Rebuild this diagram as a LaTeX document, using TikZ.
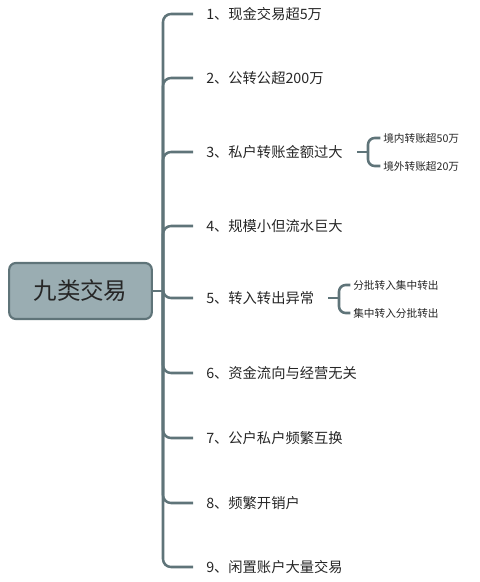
\documentclass[tikz,border=0pt]{standalone}
\usepackage{fontspec}
\newfontfamily\cjk{Noto Sans CJK SC}
\definecolor{linegray}{HTML}{5F7479}
\definecolor{rootfill}{HTML}{9AADB2}
\tikzset{
  topic/.style={anchor=west, inner sep=0pt, text=black!85, font=\cjk\fontsize{10.7}{12}\selectfont},
  subtopic/.style={anchor=west, inner sep=0pt, text=black!85, font=\cjk\fontsize{8}{9.5}\selectfont},
  branch/.style={draw=linegray, line width=1.9pt, rounded corners=6pt},
  twig/.style={draw=linegray, line width=1.9pt, rounded corners=5pt},
}
\begin{document}
\begin{tikzpicture}[x=0.75pt, y=-0.75pt]
  \useasboundingbox (0,0) rectangle (479,582);
  % central topic
  \node[draw=linegray, fill=rootfill, line width=1.6pt, rounded corners=5pt,
        minimum width=107pt, minimum height=42pt, inner sep=0pt,
        font=\cjk\fontsize{17.6}{20}\selectfont, text=black!85] (root) at (80.5,291) {九类交易};
  \coordinate (hub) at (163,291);
  \draw[branch] (root.east) -- (hub);
  % main topics
  \foreach \n/\y/\txt in {1/14/{1、现金交易超5万}, 2/78/{2、公转公超200万},
      3/152/{3、私户转账金额过大}, 4/226/{4、规模小但流水巨大},
      5/298/{5、转入转出异常}, 6/373/{6、资金流向与经营无关},
      7/438/{7、公户私户频繁互换}, 8/503/{8、频繁开销户},
      9/567/{9、闲置账户大量交易}} {
    \node[topic] (t\n) at (206,\y) {\txt};
    \coordinate (e\n) at (193,\y);
    \draw[branch] (hub) |- (e\n);
  }
  % sub topics of 3
  \node[subtopic] (s31) at (383,138) {境内转账超50万};
  \node[subtopic] (s32) at (383,166) {境外转账超20万};
  \coordinate (a3) at (357,152);
  \coordinate (k3) at (368,152);
  \draw[twig] (a3) -- (k3);
  \draw[twig] (k3) |- ([xshift=-2pt]s31.west);
  \draw[twig] (k3) |- ([xshift=-2pt]s32.west);
  % sub topics of 5
  \node[subtopic] (s51) at (353,285) {分批转入集中转出};
  \node[subtopic] (s52) at (353,313) {集中转入分批转出};
  \coordinate (a5) at (328,298);
  \coordinate (k5) at (339,298);
  \draw[twig] (a5) -- (k5);
  \draw[twig] (k5) |- ([xshift=-2pt]s51.west);
  \draw[twig] (k5) |- ([xshift=-2pt]s52.west);
\end{tikzpicture}
\end{document}
